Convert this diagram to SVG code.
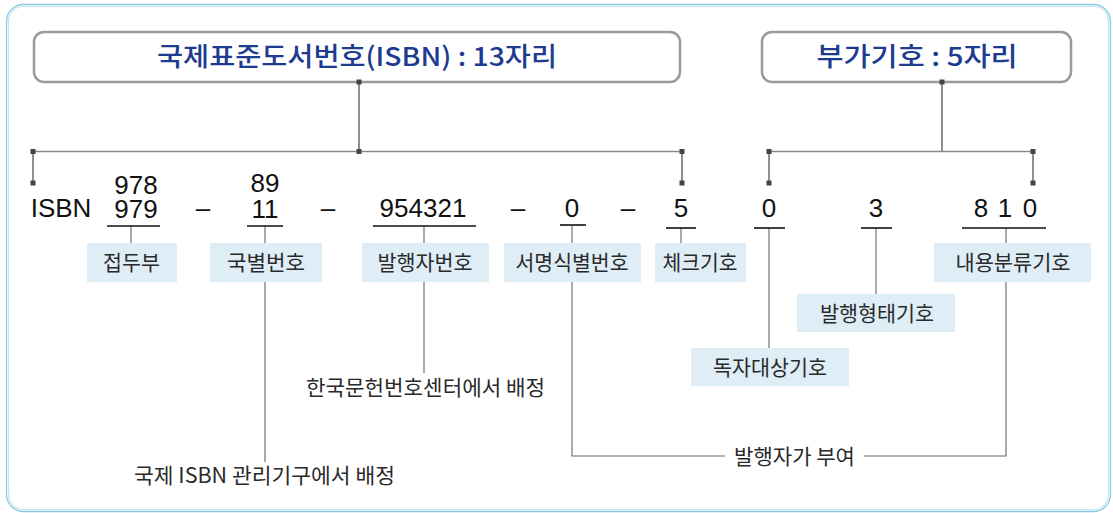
<svg xmlns="http://www.w3.org/2000/svg" width="1113" height="513" viewBox="0 0 1113 513">
<style>
.frame-o{fill:none;stroke:#8cc9e5;stroke-width:1.3}
.frame-i{fill:none;stroke:#c3e3f2;stroke-width:1.2}
.title-box{fill:#fff;stroke:#9a9a9a;stroke-width:2.5}
.title{font-family:"Noto Sans CJK KR","Noto Sans",sans-serif;font-size:26px;font-weight:500;fill:#1d3b8f;text-anchor:middle}
.num{font-family:"Liberation Sans","Noto Sans CJK KR",sans-serif;font-size:26px;fill:#111;text-anchor:middle}
.lbl-box{fill:#deedf6}
.lbl{font-family:"Noto Sans CJK KR","Noto Sans",sans-serif;font-size:21px;fill:#2a2a2a;text-anchor:middle}
.note{font-family:"Noto Sans CJK KR","Noto Sans",sans-serif;font-size:21px;fill:#2a2a2a;text-anchor:middle}
.ul{stroke:#111;stroke-width:1.6}
.ln{fill:none;stroke:#666;stroke-width:1.1}
.hl{fill:none;stroke:#8a8a8a;stroke-width:1.5}
.vl{fill:none;stroke:#444;stroke-width:1.2}
.mk{fill:#444}
</style>
<defs>
<rect id="sq" x="-2.5" y="-2.5" width="5" height="5"/>
</defs>
<g id="frame">
<rect class="frame-o" x="6.5" y="4.5" width="1104" height="507" rx="17"/>
<rect class="frame-i" x="8.5" y="6.5" width="1100" height="503" rx="15"/>
</g>
<g id="title-isbn">
<rect class="title-box" x="34" y="32" width="646" height="50" rx="10"/>
<text class="title" x="357" y="66" textLength="400" lengthAdjust="spacingAndGlyphs">국제표준도서번호(ISBN) : 13자리</text>
</g>
<g id="title-add">
<rect class="title-box" x="762" y="32" width="309" height="50" rx="10"/>
<text class="title" x="917" y="66" textLength="201" lengthAdjust="spacingAndGlyphs">부가기호 : 5자리</text>
</g>
<g id="connectors">
<path class="vl" d="M359 82V151.5"/>
<path class="hl" d="M33 151.5H682"/>
<path class="vl" d="M33 151.5V183M682 151.5V183"/>
<path class="vl" d="M942 82V151.5"/>
<path class="hl" d="M769 151.5H1033"/>
<path class="vl" d="M769 151.5V183M1033 151.5V183"/>
<g class="mk">
<use href="#sq" x="359" y="82"/><use href="#sq" x="359" y="151.5"/>
<use href="#sq" x="33" y="151.5"/><use href="#sq" x="33" y="183"/>
<use href="#sq" x="682" y="151.5"/><use href="#sq" x="682" y="183"/>
<use href="#sq" x="942" y="82"/>
<use href="#sq" x="769" y="151.5"/><use href="#sq" x="769" y="183"/>
<use href="#sq" x="1033" y="151.5"/><use href="#sq" x="1033" y="183"/>
</g>
<path class="ln" d="M131 226V243M265 226V243M424 226V243M572 226V243M681 228V243M1006 228V243"/>
<path class="ln" d="M769 228V348M876 228V294"/>
<path class="ln" d="M265 282V462M424 282V373"/>
<path class="ln" d="M572 282V456H725M864 456H1006V282"/>
</g>
<g id="isbn-row">
<text class="num" x="61" y="217">ISBN</text>
<text class="num" x="136" y="194">978</text>
<text class="num" x="136" y="218">979</text>
<path class="ul" d="M107 226H160"/>
<text class="num" x="203" y="217">–</text>
<text class="num" x="265" y="192">89</text>
<text class="num" x="265" y="218">11</text>
<path class="ul" d="M247 226H283"/>
<text class="num" x="328" y="217">–</text>
<text class="num" x="423" y="217">954321</text>
<path class="ul" d="M373 226H476"/>
<text class="num" x="518" y="217">–</text>
<text class="num" x="572" y="217">0</text>
<path class="ul" d="M560 225H586"/>
<text class="num" x="628" y="217">–</text>
<text class="num" x="681" y="217">5</text>
<path class="ul" d="M666 228H696"/>
<text class="num" x="769" y="217">0</text>
<path class="ul" d="M754 228H785"/>
<text class="num" x="876" y="217">3</text>
<path class="ul" d="M861 228H892"/>
<text class="num" x="981" y="217">8</text>
<text class="num" x="1005" y="217">1</text>
<text class="num" x="1030" y="217">0</text>
<path class="ul" d="M962 228H1046"/>
</g>
<g id="n-prefix">
<rect class="lbl-box" x="87" y="243" width="90" height="39"/>
<text class="lbl" x="131.5" y="270" textLength="57" lengthAdjust="spacingAndGlyphs">접두부</text>
</g>
<g id="n-country">
<rect class="lbl-box" x="210" y="243" width="112" height="39"/>
<text class="lbl" x="266" y="270" textLength="78" lengthAdjust="spacingAndGlyphs">국별번호</text>
</g>
<g id="n-publisher">
<rect class="lbl-box" x="362" y="243" width="127" height="39"/>
<text class="lbl" x="425" y="270" textLength="95" lengthAdjust="spacingAndGlyphs">발행자번호</text>
</g>
<g id="n-title">
<rect class="lbl-box" x="504" y="243" width="137" height="39"/>
<text class="lbl" x="572" y="270" textLength="113" lengthAdjust="spacingAndGlyphs">서명식별번호</text>
</g>
<g id="n-check">
<rect class="lbl-box" x="655" y="243" width="91" height="39"/>
<text class="lbl" x="700" y="270" textLength="75" lengthAdjust="spacingAndGlyphs">체크기호</text>
</g>
<g id="n-content">
<rect class="lbl-box" x="934" y="243" width="157" height="39"/>
<text class="lbl" x="1013" y="270" textLength="115" lengthAdjust="spacingAndGlyphs">내용분류기호</text>
</g>
<g id="n-form">
<rect class="lbl-box" x="797" y="294" width="158" height="38"/>
<text class="lbl" x="877" y="321" textLength="114" lengthAdjust="spacingAndGlyphs">발행형태기호</text>
</g>
<g id="n-reader">
<rect class="lbl-box" x="691" y="348" width="158" height="38"/>
<text class="lbl" x="770" y="375" textLength="114" lengthAdjust="spacingAndGlyphs">독자대상기호</text>
</g>
<g id="note-korea">
<text class="note" x="425.5" y="395" textLength="239" lengthAdjust="spacingAndGlyphs">한국문헌번호센터에서 배정</text>
</g>
<g id="note-intl">
<text class="note" x="264.5" y="483" textLength="261" lengthAdjust="spacingAndGlyphs">국제 ISBN 관리기구에서 배정</text>
</g>
<g id="note-publisher">
<text class="note" x="794.5" y="464" textLength="121" lengthAdjust="spacingAndGlyphs">발행자가 부여</text>
</g>
</svg>
